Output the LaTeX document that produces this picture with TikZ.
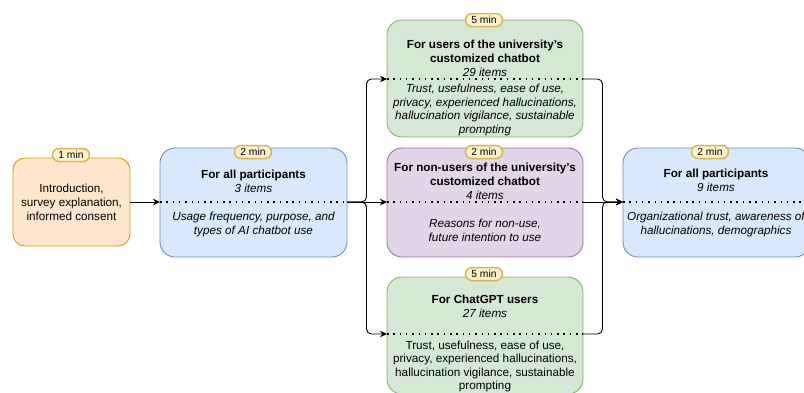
\documentclass[tikz,border=0pt]{standalone}
\usepackage{fontspec}
\setmainfont{Liberation Sans}
\usetikzlibrary{arrows.meta,calc}
\definecolor{orfill}{HTML}{FFE6CC}
\definecolor{ordraw}{HTML}{D79B00}
\definecolor{blfill}{HTML}{DAE8FC}
\definecolor{bldraw}{HTML}{6C8EBF}
\definecolor{grfill}{HTML}{D5E8D4}
\definecolor{grdraw}{HTML}{82B366}
\definecolor{pufill}{HTML}{E1D5E7}
\definecolor{pudraw}{HTML}{9673A6}
\definecolor{bafill}{HTML}{FFF2CC}
\definecolor{badraw}{HTML}{D6B656}
\tikzset{
  box/.style={rectangle, rounded corners=15pt, line width=0.9pt, inner sep=0pt},
  orangebox/.style={box, fill=orfill, draw=ordraw, minimum width=117pt, minimum height=88pt, rounded corners=12pt,
     font=\fontsize{11.7}{14}\selectfont, align=center},
  bluebox/.style={box, fill=blfill, draw=bldraw, minimum width=187pt, minimum height=109pt},
  greenbox/.style={box, fill=grfill, draw=grdraw, minimum width=196pt, minimum height=117pt},
  purplebox/.style={box, fill=pufill, draw=pudraw, minimum width=196pt, minimum height=109pt},
  txt/.style={font=\fontsize{11.7}{14}\selectfont, align=center, inner sep=0pt},
  itxt/.style={font=\fontsize{11.7}{14}\selectfont\itshape, align=center, inner sep=0pt},
  txtb/.style={font=\fontsize{11.7}{13.5}\selectfont, align=center, inner sep=0pt},
  itxtb/.style={font=\fontsize{11.7}{13.5}\selectfont\itshape, align=center, inner sep=0pt},
  badge/.style={rectangle, rounded corners=6.5pt, fill=bafill, draw=badraw, line width=1.5pt,
     minimum width=37pt, minimum height=13pt, inner sep=0pt, font=\fontsize{10.3}{11}\selectfont},
  sepline/.style={line width=1.6pt, dash pattern=on 1.5pt off 4.8pt},
  arr/.style={line width=0.9pt, -{Stealth[length=7pt,width=6.5pt]}},
  fan/.style={arr, rounded corners=5pt},
}
\begin{document}
\begin{tikzpicture}[x=1pt,y=-1pt]
\useasboundingbox (0,0) rectangle (804,392);
\clip (0,0) rectangle (804,392);
% boxes
\node[orangebox] (intro) at (71.5,202) {Introduction,\\survey explanation,\\informed consent};
\node[bluebox] (b2) at (253.5,202.5) {};
\node[greenbox] (g1) at (485,78.5) {};
\node[purplebox] (pu) at (485,202.5) {};
\node[greenbox] (g2) at (485,335.5) {};
\node[bluebox] (b3) at (716.5,202.5) {};
% separator coordinates
\coordinate (b2L) at (160,202); \coordinate (b2R) at (347,202);
\coordinate (g1L) at (387,79);  \coordinate (g1R) at (583,79);
\coordinate (puL) at (387,202); \coordinate (puR) at (583,202);
\coordinate (g2L) at (387,334); \coordinate (g2R) at (583,334);
\coordinate (b3L) at (623,202); \coordinate (b3R) at (810,202);
\draw[sepline] (b2L) -- (b2R);
\draw[sepline] (g1L) -- (g1R);
\draw[sepline] (puL) -- (puR);
\draw[sepline] (g2L) -- (g2R);
\draw[sepline] (b3L) -- (b3R);
% texts
\node[txt] (b2top) at (253.5,181) {\textbf{For all participants}\\\textit{3 items}};
\node[itxt] (b2bot) at (253.5,224) {Usage frequency, purpose, and\\types of AI chatbot use};
\node[txt] (g1top) at (485,58.5) {\textbf{For users of the university's}\\\textbf{customized chatbot}\\\textit{29 items}};
\node[itxtb] (g1bot) at (485,110) {Trust, usefulness, ease of use,\\privacy, experienced hallucinations,\\hallucination vigilance, sustainable\\prompting};
\node[txt] (putop) at (485,181) {\textbf{For non-users of the university's}\\\textbf{customized chatbot}\\\textit{4 items}};
\node[itxt] (pubot) at (485,230) {Reasons for non-use,\\future intention to use};
\node[txt] (g2top) at (485,306.5) {\textbf{For ChatGPT users}\\\textit{27 items}};
\node[txtb] (g2bot) at (485,366.5) {Trust, usefulness, ease of use,\\privacy, experienced hallucinations,\\hallucination vigilance, sustainable\\prompting};
\node[txt] (b3top) at (716,180.5) {\textbf{For all participants}\\\textit{9 items}};
\node[itxt] (b3bot) at (716,224) {Organizational trust, awareness of\\hallucinations, demographics};
% connectors
\draw[arr] (intro.east) -- (b2L);
\draw[fan] (b2R) -- ++(19.5,0) |- (g1L);
\draw[arr] (b2R) -- (puL);
\draw[fan] (b2R) -- ++(19.5,0) |- (g2L);
\draw[fan] (g1R) -- ++(19.5,0) |- (b3L);
\draw[arr] (puR) -- (b3L);
\draw[fan] (g2R) -- ++(19.5,0) |- (b3L);
% badges
\node[badge] (bd1) at (71,155) {1 min};
\node[badge] (bd2) at (253,152) {2 min};
\node[badge] (bd3) at (484,20) {5 min};
\node[badge] (bd4) at (484,152) {2 min};
\node[badge] (bd5) at (484,274) {5 min};
\node[badge] (bd6) at (710,152) {2 min};
\end{tikzpicture}
\end{document}
